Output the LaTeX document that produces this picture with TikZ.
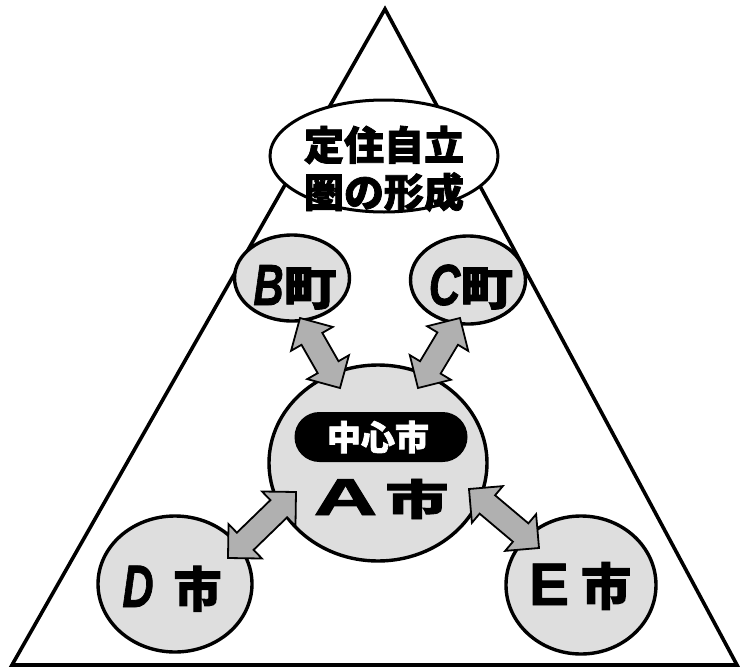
\documentclass[tikz,border=0pt]{standalone}
\usepackage{fontspec}
\usepackage{graphicx}
\newfontfamily\cjk[BoldFeatures={FakeBold=2}]{Noto Sans CJK JP}
\newfontfamily\latn[BoldFeatures={FakeBold=1.5},BoldItalicFeatures={FakeBold=1.5}]{Liberation Sans}
\usetikzlibrary{calc,shapes.geometric}
\newcommand\blockarrow[2]{%
  \path[arrowbody] (#1)
    -- ($($(#1)!24pt!(#2)$)!24pt!90:(#2)$)
    -- ($($(#1)!24pt!(#2)$)!12pt!90:(#2)$)
    -- ($($(#2)!24pt!(#1)$)!12pt!-90:(#1)$)
    -- ($($(#2)!24pt!(#1)$)!24pt!-90:(#1)$)
    -- (#2)
    -- ($($(#2)!24pt!(#1)$)!24pt!90:(#1)$)
    -- ($($(#2)!24pt!(#1)$)!12pt!90:(#1)$)
    -- ($($(#1)!24pt!(#2)$)!12pt!-90:(#2)$)
    -- ($($(#1)!24pt!(#2)$)!24pt!-90:(#2)$)
    -- cycle;}
\newcommand\cj[2]{{\cjk\bfseries\fontsize{#1}{#1}\selectfont #2}}
\newcommand\lt[2]{{\latn\bfseries\fontsize{#1}{#1}\selectfont #2}}
\tikzset{
  town/.style={ellipse, draw=black, line width=3.4pt, fill=gray!26, inner sep=0pt},
  topcloud/.style={ellipse, draw=black, line width=3pt, fill=white, inner sep=0pt},
  arrowbody/.style={draw=black, line width=1.8pt, fill=gray!62, line join=miter},
  lbl/.style={inner sep=0pt, anchor=base},
  toptext/.style={font=\cjk\bfseries\fontsize{40}{44}\selectfont, inner sep=0pt},
}
\begin{document}
\begin{tikzpicture}[x=1pt,y=-1pt]
\useasboundingbox (0,0) rectangle (740,670);
\fill[white] (0,0) rectangle (740,670);
% triangle
\coordinate (apex) at (385,9);
\coordinate (bl) at (12,665);
\coordinate (br) at (737,665);
\draw[line width=3.6pt, line join=miter] (apex) -- (br) -- (bl) -- cycle;
% top ellipse
\node[topcloud, minimum width=228, minimum height=112] (top) at (384,156) {};
\node[toptext] (t1) at (384,145) {定住自立};
\node[toptext] (t2) at (384,192) {圏の形成};
% towns
\node[town, minimum width=115, minimum height=86] (B) at (292,278) {};
\node[town, minimum width=115, minimum height=88] (C) at (468,280) {};
\node[town, minimum width=218, minimum height=196] (A) at (378,463) {};
\node[town, minimum width=154, minimum height=136] (D) at (175,584) {};
\node[town, minimum width=150, minimum height=138] (E) at (581,585) {};
% labels
\node[lbl] (Bl) at (295,305) {\scalebox{0.72}[1]{\lt{58}{\itshape B}}\scalebox{1.15}[1]{\cj{46}{町}}};
\node[lbl] (Cl) at (471,305) {\scalebox{0.75}[1]{\lt{58}{\itshape C}}\scalebox{1.15}[1]{\cj{46}{町}}};
\node[lbl] (Dl) at (172,607) {\scalebox{0.72}[1]{\lt{60}{\itshape D}}\hspace{20pt}\cj{48}{市}};
\node[lbl] (El) at (580,605) {\lt{60}{E}\hspace{12pt}\cj{50}{市}};
\node[fill=black, rounded corners=25pt, minimum width=173, minimum height=50, inner sep=0pt] (pill) at (381,437) {};
\node[text=white, inner sep=0pt] (pl) at (378,437) {\cj{34}{中心市}};
\node[lbl] (Al) at (381,515) {\scalebox{1.7}[1]{\lt{52}{A}}\hspace{8pt}\scalebox{1.5}[1]{\cj{42}{市}}};
% arrows
\coordinate (b1) at (300,318); \coordinate (b2) at (340,388);
\coordinate (c1) at (460,318); \coordinate (c2) at (418,388);
\coordinate (d1) at (228,558); \coordinate (d2) at (296,492);
\coordinate (e1) at (469,489); \coordinate (e2) at (539,548);
\blockarrow{b1}{b2}
\blockarrow{c1}{c2}
\blockarrow{d1}{d2}
\blockarrow{e1}{e2}
\end{tikzpicture}
\end{document}
